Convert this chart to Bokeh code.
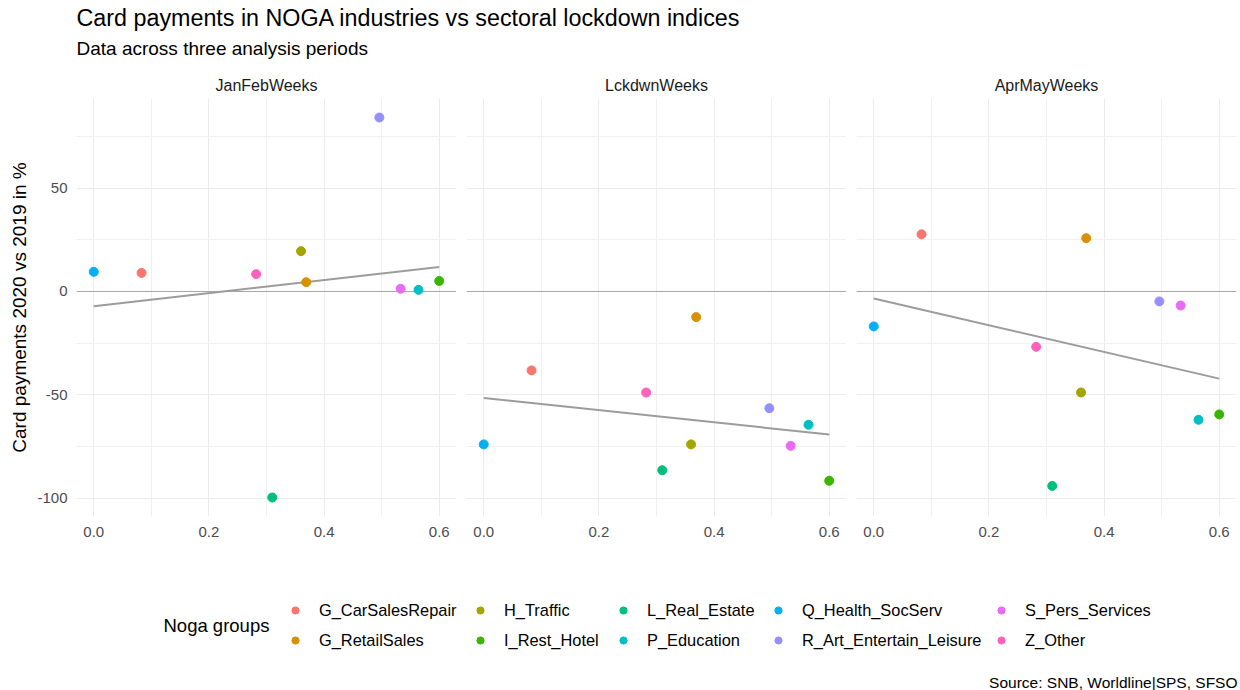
import numpy as np
from bokeh.plotting import figure
from bokeh.layouts import column, row
from bokeh.models import (Range1d, FixedTicker, PrintfTickFormatter, Span, Label,
                          Legend, LegendItem, ColumnDataSource)
from bokeh.embed import file_html
from bokeh.resources import INLINE

# ---------------- data ----------------
groups = ["G_CarSalesRepair", "G_RetailSales", "H_Traffic", "I_Rest_Hotel",
          "L_Real_Estate", "P_Education", "Q_Health_SocServ",
          "R_Art_Entertain_Leisure", "S_Pers_Services", "Z_Other"]
colors = ["#F8766D", "#D89000", "#A3A500", "#39B600", "#00BF7D",
          "#00BFC4", "#00B0F6", "#9590FF", "#E76BF3", "#FF62BC"]
lockdown_index = [0.083, 0.369, 0.360, 0.600, 0.310, 0.564, 0.000, 0.496, 0.533, 0.282]
jan_feb = [9.0, 4.5, 19.5, 5.1, -99.7, 0.8, 9.5, 84.2, 1.3, 8.4]
lckdwn = [-38.2, -12.4, -74.0, -91.6, -86.5, -64.5, -74.0, -56.5, -74.7, -48.9]
apr_may = [27.7, 25.8, -48.9, -59.5, -94.1, -62.1, -16.9, -4.8, -6.8, -26.8]
periods = ["JanFebWeeks", "LckdwnWeeks", "AprMayWeeks"]
x_ticks = [0.0, 0.2, 0.4, 0.6]
x_minor = [0.1, 0.3, 0.5]
y_ticks = [-100, -50, 0, 50]
y_minor = [-75, -25, 25, 75]

title_text = "Card payments in NOGA industries vs sectoral lockdown indices"
subtitle_text = "Data across three analysis periods"
y_label = "Card payments 2020 vs 2019 in %"
legend_title = "Noga groups"
caption = "Source: SNB, Worldline|SPS, SFSO"

FONT = "Liberation Sans"

# ---------------- layout constants (pixels) ----------------
TOTAL_W = 1240
HEADER_H = 98
FRAME_W = 380
FRAME_H = 418
GAP = 10
LEFT = 76
BOTTOM = 42
FOOTER_H = 132


def baseline_y(h, base, size):
    # screen-y (from bottom) for a Label whose alphabetic baseline should sit at `base`
    return h - (base - 0.35 * size)


all_y = jan_feb + lckdwn + apr_may
ypad = (max(all_y) - min(all_y)) * 0.05
ylo, yhi = min(all_y) - ypad, max(all_y) + ypad
xpad = (max(lockdown_index) - min(lockdown_index)) * 0.05
xlo, xhi = min(lockdown_index) - xpad, max(lockdown_index) + xpad


def make_panel(i, yvals):
    left = LEFT if i == 0 else GAP
    right = TOTAL_W - (LEFT + 3 * FRAME_W + 2 * GAP) if i == 2 else 0
    p = figure(frame_width=FRAME_W, frame_height=FRAME_H,
               x_range=Range1d(xlo, xhi), y_range=Range1d(ylo, yhi),
               toolbar_location=None, output_backend="svg",
               min_border_left=left, min_border_right=right,
               min_border_top=0, min_border_bottom=BOTTOM,
               background_fill_color="white", border_fill_color="white")
    p.outline_line_color = None

    xt = FixedTicker(ticks=x_ticks, minor_ticks=x_minor)
    yt = FixedTicker(ticks=y_ticks, minor_ticks=y_minor)
    p.xaxis.ticker = xt
    p.yaxis.ticker = yt
    p.xgrid.ticker = xt
    p.ygrid.ticker = yt
    for g in (p.xgrid, p.ygrid):
        g.grid_line_color = "#EBEBEB"
        g.grid_line_width = 1
        g.minor_grid_line_color = "#F0F0F0"
        g.minor_grid_line_width = 1

    p.xaxis.formatter = PrintfTickFormatter(format="%.1f")
    p.yaxis.formatter = PrintfTickFormatter(format="%d")
    for ax in (p.xaxis, p.yaxis):
        ax.axis_line_color = None
        ax.major_tick_line_color = None
        ax.minor_tick_line_color = None
        ax.major_tick_out = 0
        ax.major_tick_in = 0
        ax.minor_tick_out = 0
        ax.minor_tick_in = 0
        ax.major_label_text_font = FONT
        ax.major_label_text_font_size = "15px"
        ax.major_label_text_color = "#4D4D4D"
    p.xaxis.major_label_standoff = 10
    p.yaxis.major_label_standoff = 9

    if i == 0:
        p.yaxis.axis_label = y_label
        p.yaxis.axis_label_text_font = FONT
        p.yaxis.axis_label_text_font_size = "19px"
        p.yaxis.axis_label_text_font_style = "normal"
        p.yaxis.axis_label_text_color = "black"
        p.yaxis.axis_label_standoff = 4
    else:
        p.yaxis.visible = False

    zero = Span(location=0, dimension="width", line_color="#A6A6A6",
                line_width=1, level="underlay")
    p.add_layout(zero)

    # linear fit (lm) from the data, drawn from min x to max x
    slope, icpt = np.polyfit(lockdown_index, yvals, 1)
    fx = [min(lockdown_index), max(lockdown_index)]
    fy = [icpt + slope * v for v in fx]
    p.line(fx, fy, line_color="#9C9C9C", line_width=2)

    src = ColumnDataSource(dict(x=lockdown_index, y=yvals, color=colors, g=groups))
    p.scatter(x="x", y="y", color="color", size=9, source=src)
    return p


panels = [make_panel(i, yv) for i, yv in enumerate([jan_feb, lckdwn, apr_may])]

# ---------------- header ----------------
header = figure(width=TOTAL_W, height=HEADER_H, x_range=Range1d(0, 1), y_range=Range1d(0, 1),
                toolbar_location=None, output_backend="svg", min_border=0,
                x_axis_location=None, y_axis_location=None)
header.grid.visible = False
header.outline_line_color = None
header.add_layout(Label(x=LEFT, y=baseline_y(HEADER_H, 26, 23), x_units="screen", y_units="screen",
                        text=title_text, text_font=FONT, text_font_size="23.3px",
                        text_baseline="alphabetic", text_align="left", text_color="black"))
header.add_layout(Label(x=LEFT, y=baseline_y(HEADER_H, 55, 19), x_units="screen", y_units="screen",
                        text=subtitle_text, text_font=FONT, text_font_size="19px",
                        text_baseline="alphabetic", text_align="left", text_color="black"))
for i, per in enumerate(periods):
    cx = LEFT + i * (FRAME_W + GAP) + FRAME_W / 2
    header.add_layout(Label(x=cx, y=baseline_y(HEADER_H, 90.5, 16), x_units="screen", y_units="screen",
                            text=per, text_font=FONT, text_font_size="16px",
                            text_baseline="alphabetic", text_align="center",
                            text_color="#1A1A1A"))

# ---------------- footer (legend + caption) ----------------
footer = figure(width=TOTAL_W, height=FOOTER_H, x_range=Range1d(0, 1), y_range=Range1d(0, 1),
                toolbar_location=None, output_backend="svg", min_border=0,
                x_axis_location=None, y_axis_location=None)
footer.grid.visible = False
footer.outline_line_color = None

key_renderers = []
for c in colors:
    r = footer.scatter(x=[float("nan")], y=[float("nan")], color=c, size=9)
    key_renderers.append(r)

col_dot_x = [295, 480, 623, 778, 1001]
GW = 18
for ci in range(5):
    items = []
    for k in (2 * ci, 2 * ci + 1):
        items.append(LegendItem(label=groups[k], renderers=[key_renderers[k]]))
    lg = Legend(items=items, location=(col_dot_x[ci] - GW / 2, FOOTER_H - 92),
                orientation="vertical", padding=0, margin=0, spacing=10,
                glyph_width=GW, glyph_height=20, label_height=20, label_standoff=15,
                label_text_font=FONT, label_text_font_size="16.4px",
                label_text_color="black", background_fill_alpha=0,
                border_line_alpha=0)
    footer.add_layout(lg, "center")

footer.add_layout(Label(x=163, y=baseline_y(FOOTER_H, 73.7, 18.5), x_units="screen", y_units="screen",
                        text=legend_title, text_font=FONT, text_font_size="18.5px",
                        text_baseline="alphabetic", text_align="left", text_color="black"))
footer.add_layout(Label(x=TOTAL_W - 3, y=baseline_y(FOOTER_H, 129, 15.5), x_units="screen", y_units="screen",
                        text=caption, text_font=FONT, text_font_size="15.5px",
                        text_baseline="alphabetic", text_align="right", text_color="black"))

layout = column(header, row(*panels), footer)
open("out.html", "w").write(file_html(layout, INLINE))
